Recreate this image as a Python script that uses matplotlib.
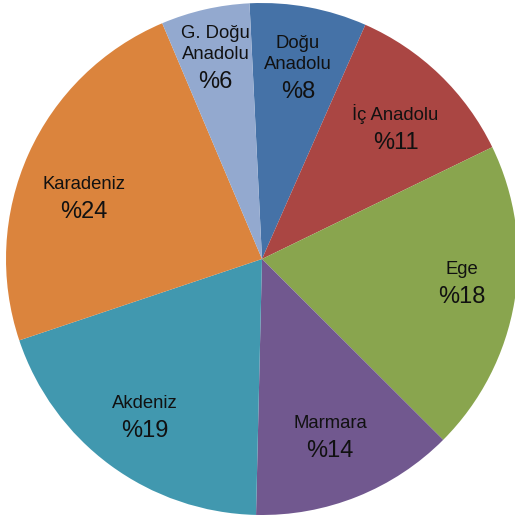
import matplotlib.pyplot as plt
import numpy as np

plt.rcParams['font.family'] = ['Liberation Sans', 'DejaVu Sans']

# Regions, clockwise from the top
regions = ['Doğu\nAnadolu', 'İç Anadolu', 'Ege', 'Marmara', 'Akdeniz',
           'Karadeniz', 'G. Doğu\nAnadolu']
# slice sizes as drawn
shares = [7.4, 11.2, 19.7, 12.9, 19.5, 23.8, 5.6]
# percentages printed on the chart
pct_labels = ['%8', '%11', '%18', '%14', '%19', '%24', '%6']

colors = ['#4572A7', '#AA4643', '#89A54E', '#71588F', '#4198AF', '#DB843D', '#93A9CF']

# label block positions: angle clockwise from top (deg), distance (fraction of radius)
label_ang = [11.1, 45.6, 96.6, 158.9, 216.7, 289.2, 346.4]
label_r = [0.726, 0.73, 0.785, 0.74, 0.765, 0.736, 0.772]

fig = plt.figure(figsize=(5.15, 5.15), dpi=100)
ax = fig.add_axes([0, 0, 1, 1])

wedges, _ = ax.pie(shares, colors=colors, startangle=92.8, counterclock=False,
                   radius=1.0, wedgeprops=dict(linewidth=0))

for name, pct, a, r in zip(regions, pct_labels, label_ang, label_r):
    t = np.deg2rad(90 - a)
    x, y = r * np.cos(t), r * np.sin(t)
    ax.annotate(name, (x, y), xytext=(0, 2.9), textcoords='offset points',
                ha='center', va='bottom', fontsize=13.3, color='#111111',
                linespacing=1.3)
    ax.annotate(pct, (x, y), xytext=(0, -2.9), textcoords='offset points',
                ha='center', va='top', fontsize=17, color='#111111')

# pie centre sits at (262, 259) px with a 256 px radius
ax.set_xlim(-262 / 256, (515 - 262) / 256)
ax.set_ylim(-256 / 256, (515 - 256) / 256)
ax.set_aspect('auto')
ax.axis('off')

fig.savefig('out.png', dpi=100, facecolor='white')
